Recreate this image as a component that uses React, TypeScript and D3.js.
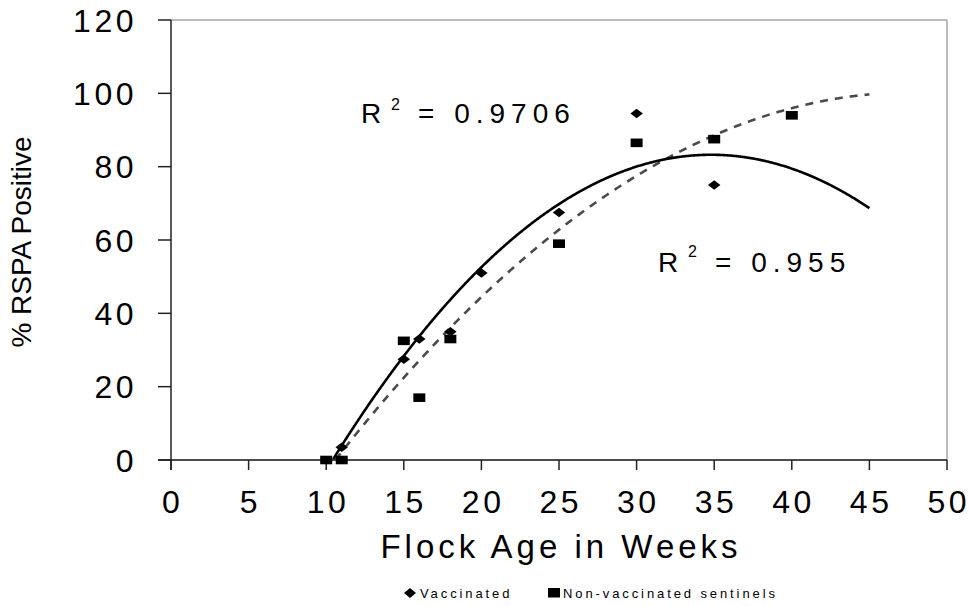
import React from "react";
import * as d3 from "d3";

const vaccinatedX = [11, 15, 16, 18, 20, 25, 30, 35];
const vaccinatedY = [3.5, 27.5, 33, 35, 51, 67.5, 94.5, 75];
const sentinelX = [10, 11, 15, 16, 18, 25, 30, 35, 40];
const sentinelY = [0, 0, 32.5, 17, 33, 59, 86.5, 87.5, 94];
// polynomial trendline coefficients (a + b x + c x^2)
const vaccinatedTrend = [-86.3, 9.744, -0.14];
const xTicks = [0, 5, 10, 15, 20, 25, 30, 35, 40, 45, 50];
const yTicks = [0, 20, 40, 60, 80, 100, 120];
const seriesNames = ["Vaccinated", "Non-vaccinated sentinels"];
const r2Labels = ["0.9706", "0.955"];
const trendRange = [10, 45];

function quadFit(xs: number[], ys: number[]) {
  // least squares y = a + b x + c x^2
  let s0 = 0, s1 = 0, s2 = 0, s3 = 0, s4 = 0, t0 = 0, t1 = 0, t2 = 0;
  xs.forEach((x, i) => {
    const y = ys[i];
    s0 += 1; s1 += x; s2 += x * x; s3 += x ** 3; s4 += x ** 4;
    t0 += y; t1 += x * y; t2 += x * x * y;
  });
  const M = [
    [s0, s1, s2, t0],
    [s1, s2, s3, t1],
    [s2, s3, s4, t2],
  ];
  for (let i = 0; i < 3; i++) {
    for (let j = i + 1; j < 3; j++) {
      const f = M[j][i] / M[i][i];
      for (let k = i; k < 4; k++) M[j][k] -= f * M[i][k];
    }
  }
  const r = [0, 0, 0];
  for (let i = 2; i >= 0; i--) {
    let s = M[i][3];
    for (let k = i + 1; k < 3; k++) s -= M[i][k] * r[k];
    r[i] = s / M[i][i];
  }
  return (x: number) => r[0] + r[1] * x + r[2] * x * x;
}

export default function App() {
  const W = 969, H = 606;
  const x = d3.scaleLinear().domain([0, 50]).range([171, 947]);
  const y = d3.scaleLinear().domain([0, 120]).range([460, 20]);
  const font = "'Liberation Sans', Arial, sans-serif";

  const fv = (v: number) => vaccinatedTrend[0] + vaccinatedTrend[1] * v + vaccinatedTrend[2] * v * v;
  const fs = quadFit(sentinelX, sentinelY);
  const samples = d3.range(trendRange[0], trendRange[1] + 0.001, 0.05);
  const mk = (f: (v: number) => number) =>
    d3
      .line<number>()
      .defined((d) => f(d) >= 0)
      .x((d) => x(d))
      .y((d) => y(f(d)))(samples) || "";

  const diamond = (cx: number, cy: number, w = 12.5, h = 9.5) =>
    `M${cx},${cy - h / 2}L${cx + w / 2},${cy}L${cx},${cy + h / 2}L${cx - w / 2},${cy}Z`;

  return (
    <svg
      width={W}
      height={H}
      style={{ position: "absolute", left: 0, top: 0, background: "#fff" }}
      fontFamily={font}
    >
      <rect x={0} y={0} width={W} height={H} fill="#fff" />
      <defs>
        <clipPath id="plot">
          <rect x={x(0)} y={y(120)} width={x(50) - x(0)} height={y(0) - y(120)} />
        </clipPath>
      </defs>
      {/* plot frame top & right */}
      <line x1={x(0)} x2={x(50)} y1={y(120)} y2={y(120)} stroke="#a6a6a6" strokeWidth={1.5} />
      <line x1={x(50)} x2={x(50)} y1={y(120)} y2={y(0)} stroke="#a6a6a6" strokeWidth={1.5} />
      {/* axes */}
      <line x1={x(0)} x2={x(0)} y1={y(120)} y2={y(0) + 10} stroke="#222" strokeWidth={1.5} />
      <line x1={x(0) - 13} x2={x(50)} y1={y(0)} y2={y(0)} stroke="#111" strokeWidth={1.5} />
      {yTicks.map((t) => (
        <g key={"y" + t}>
          <line x1={x(0) - 13} x2={x(0)} y1={y(t)} y2={y(t)} stroke="#222" strokeWidth={1.5} />
          <text x={137} y={y(t) + 11.5} textAnchor="end" fontSize={32} letterSpacing={3.5} fill="#000">
            {t}
          </text>
        </g>
      ))}
      {xTicks.map((t) => (
        <g key={"x" + t}>
          <line x1={x(t)} x2={x(t)} y1={y(0)} y2={y(0) + 10} stroke="#222" strokeWidth={1.5} />
          <text x={x(t) + 1.75} y={513} textAnchor="middle" fontSize={32} letterSpacing={3.5} fill="#000">
            {t}
          </text>
        </g>
      ))}
      <text x={561} y={558} textAnchor="middle" fontSize={33} letterSpacing={4} fill="#000">
        Flock Age in Weeks
      </text>
      <text
        transform={`translate(31,${(y(0) + y(120)) / 2 + 2}) rotate(-90)`}
        textAnchor="middle"
        fontSize={28}
        fill="#000"
      >
        % RSPA Positive
      </text>

      {/* trendlines */}
      <g clipPath="url(#plot)">
        <path d={mk(fs)} fill="none" stroke="#4a4a4a" strokeWidth={2.6} strokeDasharray="8,7" />
        <path d={mk(fv)} fill="none" stroke="#000" strokeWidth={2.6} />
      </g>

      {/* points */}
      {sentinelX.map((v, i) => (
        <rect key={"s" + i} x={x(v) - 6} y={y(sentinelY[i]) - 4.3} width={12} height={8.6} fill="#000" />
      ))}
      {vaccinatedX.map((v, i) => (
        <path key={"v" + i} d={diamond(x(v), y(vaccinatedY[i]))} fill="#000" />
      ))}

      {/* R² labels */}
      <text fontSize={28} fill="#000" letterSpacing={6}>
        <tspan x={361} y={123}>R</tspan>
        <tspan x={391} y={110} fontSize={16}>2</tspan>
        <tspan x={418} y={123}>{"= " + r2Labels[0]}</tspan>
      </text>
      <text fontSize={28} fill="#000" letterSpacing={6}>
        <tspan x={658} y={272}>R</tspan>
        <tspan x={688} y={257} fontSize={16}>2</tspan>
        <tspan x={715} y={272}>{"= " + r2Labels[1]}</tspan>
      </text>

      {/* legend */}
      <path d={diamond(410, 593, 12, 10)} fill="#000" />
      <text x={420} y={597.5} fontSize={13} letterSpacing={2.9} fill="#000">
        {seriesNames[0]}
      </text>
      <rect x={548} y={588} width={12} height={9.5} fill="#000" />
      <text x={563} y={597.5} fontSize={13} letterSpacing={2.9} fill="#000">
        {seriesNames[1]}
      </text>
    </svg>
  );
}
